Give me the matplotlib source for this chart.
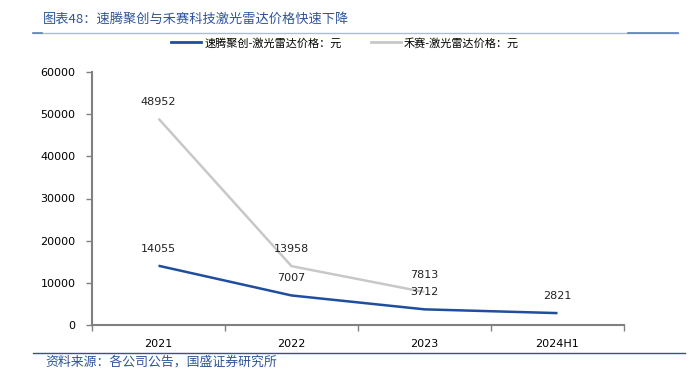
import matplotlib
matplotlib.use("Agg")
import matplotlib.pyplot as plt
from matplotlib.lines import Line2D

plt.rcParams['font.family'] = ['Noto Sans CJK SC', 'DejaVu Sans']

categories = ["2021", "2022", "2023", "2024H1"]
robosense = [14055, 7007, 3712, 2821]
hesai = [48952, 13958, 7813]
name_robosense = "速腾聚创-激光雷达价格：元"
name_hesai = "禾赛-激光雷达价格：元"
title = "图表48：速腾聚创与禾赛科技激光雷达价格快速下降"
source = "资料来源：各公司公告，国盛证券研究所"
yticks = [0, 10000, 20000, 30000, 40000, 50000, 60000]

W, H = 691, 376
fig = plt.figure(figsize=(W / 100, H / 100), dpi=100)

def fx(px):
    return px / W

def fy(py):
    return 1 - py / H

ax = fig.add_axes([fx(92), fy(325), fx(624) - fx(92), fy(72) - fy(325)])

blue = "#1f4e9e"
gray = "#c8c8c8"
x = list(range(len(categories)))
ax.plot(x, robosense, color=blue, lw=1.8, solid_capstyle="butt")
ax.plot(x[:len(hesai)], hesai, color=gray, lw=1.8, solid_capstyle="butt")

for series in (robosense, hesai):
    for xi, v in zip(x, series):
        ax.annotate(f"{v}", (xi, v), xytext=(0, 12.3), textcoords="offset points",
                    ha="center", va="center", fontsize=8, color="#222222",
                    family="DejaVu Sans")

ax.set_xlim(-0.5, len(categories) - 0.5)
ax.set_ylim(0, 60000)
ax.set_yticks(yticks)
ax.set_yticklabels([str(t) for t in yticks], family="DejaVu Sans", fontsize=8)
ax.set_xticks(x)
ax.set_xticklabels(categories, family="DejaVu Sans", fontsize=8)
ax.set_xticks([i + 0.5 for i in range(-1, len(categories))], minor=True)
ax.tick_params(axis="x", which="major", length=0, pad=10)
ax.tick_params(axis="x", which="minor", length=4, color="#808080", width=1)
ax.tick_params(axis="y", length=4, color="#808080", width=1, pad=8)
for s in ["top", "right"]:
    ax.spines[s].set_visible(False)
for s in ["left", "bottom"]:
    ax.spines[s].set_color("#808080")
    ax.spines[s].set_linewidth(1.5)

# title
fig.text(fx(43), fy(19), title, ha="left", va="center", fontsize=9.5,
         color="#2f5597", style="italic")
fig.add_artist(Line2D([fx(33), fx(678)], [fy(32.7), fy(32.7)], color="#a9bde0", lw=1))
fig.add_artist(Line2D([fx(33), fx(42)], [fy(32.7), fy(32.7)], color="#5b7fc0", lw=1.2))
fig.add_artist(Line2D([fx(628), fx(678)], [fy(32.7), fy(32.7)], color="#5b7fc0", lw=1.2))

# legend
handles = [Line2D([], [], color=blue, lw=2), Line2D([], [], color=gray, lw=2)]
fig.legend(handles, [name_robosense, name_hesai], loc="center",
           bbox_to_anchor=(fx(345), fy(43)), ncol=2, frameon=False,
           fontsize=8, handlelength=2.7, columnspacing=2.6, handletextpad=0.3)

# source
fig.add_artist(Line2D([fx(33), fx(685)], [fy(353), fy(353)], color="#2f5597", lw=1))
fig.text(fx(45), fy(362), source, ha="left", va="center", fontsize=9.3,
         color="#2f5597", style="italic")

fig.savefig("out.png", dpi=100)
